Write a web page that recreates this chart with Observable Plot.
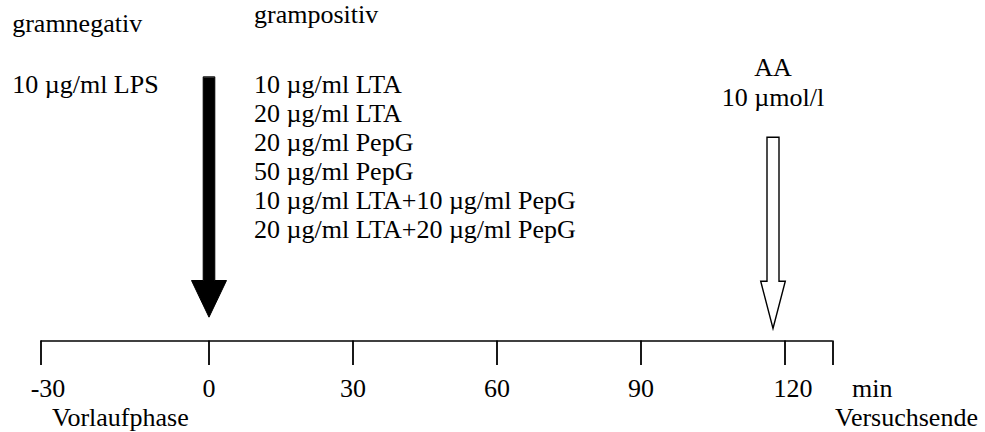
<!DOCTYPE html>
<html>
<head>
<meta charset="utf-8">
<script src="https://cdn.jsdelivr.net/npm/d3@7"></script>
<script src="https://cdn.jsdelivr.net/npm/@observablehq/plot@0.6"></script>
<style>
  html, body { margin: 0; padding: 0; background: #fff; }
  #chart { width: 985px; height: 432px; }
</style>
</head>
<body>
<div id="chart"></div>
<script>
// ---- data ----
const timeTicks = [-30, 0, 30, 60, 90, 120, 130];
const timeTickLabels = ["-30", "0", "30", "60", "90", "120", ""];
const timeUnit = ["min"];
const startPhase = ["Vorlaufphase"];
const endPhase = ["Versuchsende"];
const negativeHeader = ["gramnegativ"];
const negativeStimuli = ["10 µg/ml LPS"];
const positiveHeader = ["grampositiv"];
const positiveStimuli = [
  "10 µg/ml LTA",
  "20 µg/ml LTA",
  "20 µg/ml PepG",
  "50 µg/ml PepG",
  "10 µg/ml LTA+10 µg/ml PepG",
  "20 µg/ml LTA+20 µg/ml PepG"
];
const stimulusTime = [0];
const aaTime = [117.5];
const aaLabels = ["AA", "10 µmol/l"];

// ---- layout ----
const W = 985, H = 432;
const FONT = "'Liberation Serif', 'Times New Roman', Times, serif";
const FS = 26;
const axisY = 340.5, tickLen = 24.5;
const tickLabelY = 396, phaseLabelY = 425;
const rowTop = 92, rowStep = 29;
const labelShift = {"-30": 7, "120": 8};
// the pre-phase segment (-30..0) is drawn wider than the rest of the time axis
const preStretch = 7 / 6;

function blockArrow(shaftHalf, headHalf, headLen) {
  return {
    draw(context, l) {
      const b = l - headLen;
      context.moveTo(-shaftHalf, 0);
      context.lineTo(-shaftHalf, -b);
      context.lineTo(-headHalf, -b);
      context.lineTo(0, -l);
      context.lineTo(headHalf, -b);
      context.lineTo(shaftHalf, -b);
      context.lineTo(shaftHalf, 0);
      context.closePath();
    }
  };
}

const txt = {fontSize: FS, fontFamily: FONT, fill: "black", lineAnchor: "bottom"};
const last = timeTicks[timeTicks.length - 1];

const chart = Plot.plot({
  width: W,
  height: H,
  margin: 0,
  style: {background: "white", color: "black", fontFamily: FONT},
  x: {
    type: "linear",
    transform: t => (t < 0 ? t * preStretch : t),
    domain: [timeTicks[0] * preStretch, last],
    range: [40.5, 832.5],
    axis: null
  },
  y: {domain: [0, H], range: [0, H], axis: null},
  marks: [
    // time axis
    Plot.ruleY([axisY], {x1: timeTicks[0], x2: last, y: d => d, stroke: "black", strokeWidth: 1.6}),
    Plot.ruleX(timeTicks, {x: d => d, y1: axisY, y2: axisY + tickLen, stroke: "black", strokeWidth: 1.8}),
    Plot.text(timeTicks, {...txt, x: d => d, y: () => tickLabelY, text: (d, i) => timeTickLabels[i], textAnchor: "middle"}),
    Plot.text(timeUnit, {...txt, x: () => last, y: () => tickLabelY, text: d => d, textAnchor: "start", dx: 19}),
    Plot.text(startPhase, {...txt, x: () => timeTicks[0], y: () => phaseLabelY, text: d => d, textAnchor: "start", dx: 11}),
    Plot.text(endPhase, {...txt, x: () => last, y: () => phaseLabelY, text: d => d, textAnchor: "start", dx: 2}),

    // stimulus arrow (solid)
    Plot.vector(stimulusTime, {x: d => d, y: () => 76.7, length: 240, rotate: 180, anchor: "start",
      shape: blockArrow(5.8, 17.5, 36.7), fill: "black", stroke: "black", strokeWidth: 1}),
    // AA arrow (outline)
    Plot.vector(aaTime, {x: d => d, y: () => 136.7, length: 191.3, rotate: 180, anchor: "start",
      shape: blockArrow(6, 12.3, 47.3), fill: "white", stroke: "black", strokeWidth: 1.4, strokeLinejoin: "miter"}),

    // gram-negative column
    Plot.text(negativeHeader, {...txt, frameAnchor: "left", dx: 11.7, y: () => 31, text: d => d, textAnchor: "start"}),
    Plot.text(negativeStimuli, {...txt, frameAnchor: "left", dx: 11.7, y: (d, i) => rowTop + i * rowStep, text: d => d, textAnchor: "start"}),

    // gram-positive column
    Plot.text(positiveHeader, {...txt, x: () => stimulusTime[0], dx: 45, y: () => 22, text: d => d, textAnchor: "start"}),
    Plot.text(positiveStimuli, {...txt, x: () => stimulusTime[0], dx: 45, y: (d, i) => rowTop + i * rowStep, text: d => d, textAnchor: "start"}),

    // AA label
    Plot.text(aaLabels, {...txt, x: () => aaTime[0], y: (d, i) => 75 + i * 30, text: d => d, textAnchor: "middle"})
  ]
});

// shift the two edge tick labels slightly right, as in the reference
d3.select(chart).selectAll("text").each(function () {
  const t = this.textContent;
  if (labelShift[t] !== undefined) {
    const tr = this.getAttribute("transform") || "";
    this.setAttribute("transform", `translate(${labelShift[t]},0) ` + tr);
  }
});

document.getElementById("chart").appendChild(chart);
</script>
</body>
</html>
